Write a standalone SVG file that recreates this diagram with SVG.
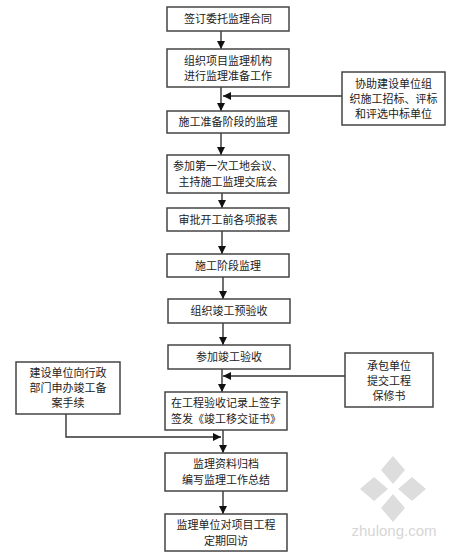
<svg xmlns="http://www.w3.org/2000/svg" width="455" height="560" viewBox="0 0 455 560">
<defs>
<marker id="ah" viewBox="0 0 10 10" refX="10" refY="5" markerWidth="8" markerHeight="8" markerUnits="userSpaceOnUse" orient="auto">
<path d="M0,0 L10,5 L0,10 z" fill="#111"/>
</marker>
<style>
.box{fill:#fff;stroke:#444;stroke-width:1.5}
.t{font-family:"Noto Sans CJK SC","Noto Sans",sans-serif;font-size:11px;fill:#222;text-anchor:middle}
.c{fill:none;stroke:#333;stroke-width:1.4;marker-end:url(#ah)}
.wm{fill:#ddd}
</style>
</defs>
<rect width="455" height="560" fill="#fff"/>
<g id="watermark">
<polygon class="wm" points="393,456 405,470 393,484 381,470"/>
<polygon class="wm" points="393,494 405,508 393,522 381,508"/>
<polygon class="wm" points="360,489 374,477 388,489 374,501"/>
<polygon class="wm" points="398,489 412,477 426,489 412,501"/>
<text x="394" y="536" style="font-family:'Liberation Sans',sans-serif;font-size:15px;fill:#d6d6d6;text-anchor:middle">zhulong.com</text>
</g>
<g id="connectors">
<path class="c" d="M221,31 V49"/>
<path class="c" d="M221,87 V111"/>
<path class="c" d="M342,96 H223"/>
<path class="c" d="M221,133 V155"/>
<path class="c" d="M222,193 V208"/>
<path class="c" d="M222,231 V254"/>
<path class="c" d="M223,277 V299"/>
<path class="c" d="M223,323 V345"/>
<path class="c" d="M222,369 V392"/>
<path class="c" d="M345,376 H223"/>
<path class="c" d="M223,430 V453"/>
<path class="c" d="M66,414 V437 H221"/>
<path class="c" d="M223,491 V514"/>
</g>
<g id="n1"><rect class="box" x="167" y="7" width="122" height="24"/><text class="t" x="228" y="23">签订委托监理合同</text></g>
<g id="n2"><rect class="box" x="167" y="49" width="122" height="38"/><text class="t" x="228" y="65">组织项目监理机构</text><text class="t" x="228" y="80">进行监理准备工作</text></g>
<g id="n3"><rect class="box" x="167" y="111" width="122" height="22"/><text class="t" x="228" y="126">施工准备阶段的监理</text></g>
<g id="n4"><rect class="box" x="167" y="155" width="122" height="38"/><text class="t" x="228" y="170">参加第一次工地会议、</text><text class="t" x="228" y="186">主持施工监理交底会</text></g>
<g id="n5"><rect class="box" x="167" y="208" width="122" height="23"/><text class="t" x="228" y="223.5">审批开工前各项报表</text></g>
<g id="n6"><rect class="box" x="167" y="254" width="122" height="23"/><text class="t" x="228" y="269.5">施工阶段监理</text></g>
<g id="n7"><rect class="box" x="168" y="299" width="122" height="24"/><text class="t" x="229" y="315">组织竣工预验收</text></g>
<g id="n8"><rect class="box" x="168" y="345" width="122" height="24"/><text class="t" x="229" y="361">参加竣工验收</text></g>
<g id="n9"><rect class="box" x="165" y="392" width="122" height="38"/><text class="t" x="226" y="407">在工程验收记录上签字</text><text class="t" x="226" y="423">签发《竣工移交证书》</text></g>
<g id="n10"><rect class="box" x="165" y="453" width="122" height="38"/><text class="t" x="226" y="468">监理资料归档</text><text class="t" x="226" y="484">编写监理工作总结</text></g>
<g id="n11"><rect class="box" x="165" y="514" width="122" height="37"/><text class="t" x="226" y="529">监理单位对项目工程</text><text class="t" x="226" y="545">定期回访</text></g>
<g id="s1"><rect class="box" x="342" y="72" width="103" height="53"/><text class="t" x="393.5" y="88">协助建设单位组</text><text class="t" x="393.5" y="103">织施工招标、评标</text><text class="t" x="393.5" y="118">和评选中标单位</text></g>
<g id="s2"><rect class="box" x="345" y="353" width="88" height="54"/><text class="t" x="389" y="370">承包单位</text><text class="t" x="389" y="385">提交工程</text><text class="t" x="389" y="400">保修书</text></g>
<g id="s3"><rect class="box" x="16" y="362" width="104" height="52"/><text class="t" x="68" y="377">建设单位向行政</text><text class="t" x="68" y="392">部门申办竣工备</text><text class="t" x="68" y="407">案手续</text></g>
</svg>
